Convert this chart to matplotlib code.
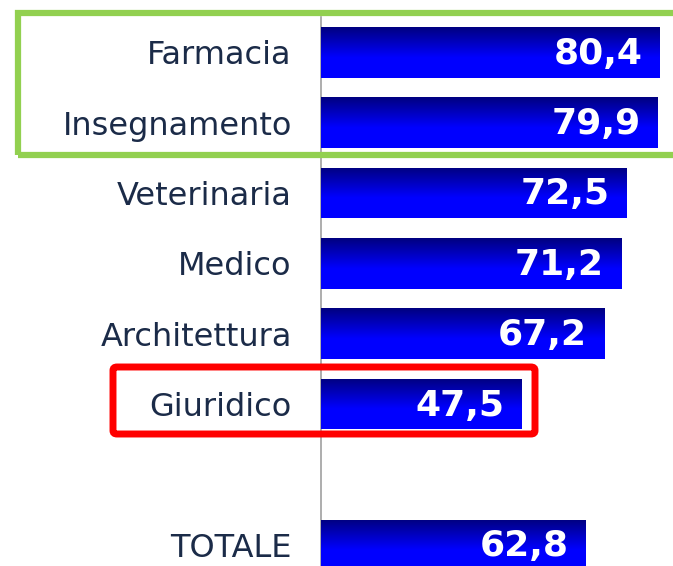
import numpy as np
import matplotlib
matplotlib.use("Agg")
import matplotlib.pyplot as plt
from matplotlib.colors import LinearSegmentedColormap
from matplotlib.patches import FancyBboxPatch, Rectangle

# data
categories = ["Farmacia", "Insegnamento", "Veterinaria", "Medico",
              "Architettura", "Giuridico", "", "TOTALE"]
values = [80.4, 79.9, 72.5, 71.2, 67.2, 47.5, None, 62.8]
value_labels = ["80,4", "79,9", "72,5", "71,2", "67,2", "47,5", "", "62,8"]

W, H = 673, 566
fig = plt.figure(figsize=(W / 100, H / 100), dpi=100)
ax = fig.add_axes([321 / W, 0, 1 - 321 / W, (H - 17) / H])

grad = LinearSegmentedColormap.from_list(
    "bar", [(0.0, "#000080"), (0.6, "#0000ff"), (1.0, "#0000ff")])

ypos = np.arange(len(categories))
for y, v, lab in zip(ypos, values, value_labels):
    if v is None:
        continue
    bar = ax.barh(y, v, height=0.72, color="#0000ff", zorder=2)[0]
    x0, y0 = bar.get_x(), bar.get_y()
    w, h = bar.get_width(), bar.get_height()
    img = ax.imshow(np.linspace(0, 1, 100).reshape(-1, 1), cmap=grad,
                    aspect="auto", extent=(x0, x0 + w, y0 + h, y0),
                    zorder=3, interpolation="bilinear")
    img.set_clip_path(bar)
    ax.text(v - 4.1, y + 0.02, lab, ha="right", va="center", color="white",
            fontsize=26, fontweight="bold", family="DejaVu Sans", zorder=4)

ax.set_xlim(0, 83.5)
ax.set_ylim(7.3, -0.5)
ax.set_yticks([y for y, c in zip(ypos, categories) if c])
ax.set_yticklabels([c for c in categories if c], fontsize=23, color="#1b2b48")
ax.tick_params(axis="y", length=0, pad=21)
ax.set_xticks([])
for side in ["top", "right", "bottom"]:
    ax.spines[side].set_visible(False)
ax.spines["left"].set_color("#a0a0a0")
ax.spines["left"].set_linewidth(1.2)

# highlight boxes (figure pixels, y from top)
def px(x, y):
    return x / W, 1 - y / H

green = Rectangle(px(18, 155), (W + 10 - 18) / W, (155 - 13) / H,
                  transform=fig.transFigure, fill=False,
                  edgecolor="#92d050", linewidth=4.5, zorder=10)
fig.add_artist(green)
red = FancyBboxPatch(px(113, 434), (535 - 113) / W, (434 - 367) / H,
                     boxstyle="round,pad=0,rounding_size=0.006",
                     transform=fig.transFigure, fill=False,
                     edgecolor="#ff0000", linewidth=5, zorder=10)
fig.add_artist(red)

fig.savefig("out.png", dpi=100)
